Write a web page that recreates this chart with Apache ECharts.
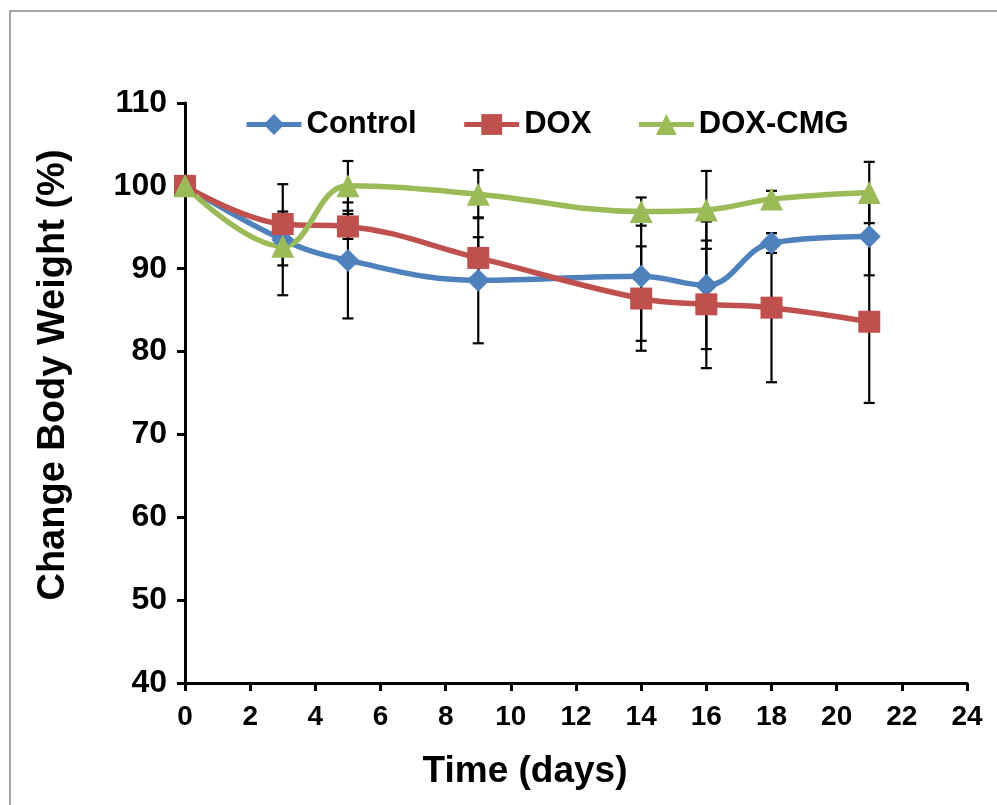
<!DOCTYPE html>
<html>
<head>
<meta charset="utf-8">
<script src="https://cdn.jsdelivr.net/npm/echarts@6/dist/echarts.min.js"></script>
<style>html,body{margin:0;padding:0;background:#fff;}#c{width:997px;height:805px;}</style>
</head>
<body>
<div id="c"></div>
<script>
var days = [0, 3, 5, 9, 14, 16, 18, 21];
var control = [100, 93.5, 91.0, 88.6, 89.1, 88.0, 93.1, 93.9];
var controlErr = [0, 6.7, 7.0, 7.6, 7.8, 7.7, 1.2, 4.7];
var dox = [100, 95.4, 95.1, 91.3, 86.4, 85.7, 85.3, 83.6];
var doxErr = [0, 1.5, 1.5, 2.5, 6.3, 7.7, 9.0, 9.8];
var doxcmg = [100, 92.7, 100.0, 99.0, 96.9, 97.1, 98.4, 99.2];
var doxcmgErr = [0, 2.3, 3.0, 2.9, 1.7, 4.7, 1.0, 3.7];
var xTicks = [0, 2, 4, 6, 8, 10, 12, 14, 16, 18, 20, 22, 24];
var yTicks = [40, 50, 60, 70, 80, 90, 100, 110];

var FONT = '"Liberation Sans", Arial, sans-serif';
function pairs(ys) { return days.map(function (d, i) { return [d, ys[i]]; }); }
function errData(ys, es) { return days.map(function (d, i) { return [d, ys[i] - es[i], ys[i] + es[i]]; }); }
function errSeries(ys, es) {
  return {
    type: 'custom', z: 1, silent: true,
    data: errData(ys, es),
    renderItem: function (params, api) {
      if (api.value(2) - api.value(1) <= 0) return null;
      var lo = api.coord([api.value(0), api.value(1)]);
      var hi = api.coord([api.value(0), api.value(2)]);
      var w = 5.5;
      var st = { stroke: '#000', lineWidth: 2.2 };
      return { type: 'group', children: [
        { type: 'line', shape: { x1: lo[0], y1: lo[1], x2: hi[0], y2: hi[1] }, style: st },
        { type: 'line', shape: { x1: lo[0] - w, y1: lo[1], x2: lo[0] + w, y2: lo[1] }, style: st },
        { type: 'line', shape: { x1: hi[0] - w, y1: hi[1], x2: hi[0] + w, y2: hi[1] }, style: st }
      ]};
    }
  };
}
function lineSeries(name, ys, color, symbol, size) {
  return {
    name: name, type: 'line', z: 3, smooth: 0.4, data: pairs(ys),
    symbol: symbol, symbolSize: size,
    lineStyle: { color: color, width: 5.5 },
    itemStyle: { color: color },
    emphasis: { disabled: true }
  };
}

var chart = echarts.init(document.getElementById('c'));
chart.setOption({
  animation: false,
  backgroundColor: '#fff',
  grid: { left: 185, right: 30, top: 103, bottom: 122, containLabel: false },
  legend: {
    top: 104, left: 239, itemWidth: 55, itemHeight: 26, itemGap: 45,
    data: ['Control', 'DOX', 'DOX-CMG'],
    lineStyle: { width: 5 },
    textStyle: { fontFamily: FONT, fontWeight: 'bold', fontSize: 31, color: '#000' }
  },
  xAxis: {
    type: 'value', min: 0, max: 24, interval: 2,
    splitLine: { show: false },
    axisLine: { lineStyle: { color: '#000', width: 3 } },
    axisTick: { show: true, inside: false, length: 8, lineStyle: { color: '#000', width: 3 } },
    axisLabel: { margin: 20, fontFamily: FONT, fontWeight: 'bold', fontSize: 28, color: '#000',
      formatter: function (v) { return xTicks.indexOf(v) >= 0 ? String(v) : ''; } }
  },
  yAxis: {
    type: 'value', min: 40, max: 110, interval: 10,
    splitLine: { show: false },
    axisLine: { show: true, lineStyle: { color: '#000', width: 3 } },
    axisTick: { show: true, inside: false, length: 8, lineStyle: { color: '#000', width: 3 } },
    axisLabel: { margin: 18, fontFamily: FONT, fontWeight: 'bold', fontSize: 32, color: '#000',
      formatter: function (v) { return yTicks.indexOf(v) >= 0 ? String(v) : ''; } }
  },
  graphic: [
    { type: 'rect', shape: { x: 10, y: 11, width: 1100, height: 900 }, style: { fill: 'none', stroke: '#888', lineWidth: 1.5 }, silent: true },
    { type: 'text', x: 525, y: 772, style: { text: 'Time (days)', fontFamily: FONT, fontWeight: 'bold', fontSize: 37, fill: '#000', align: 'center', verticalAlign: 'middle' } },
    { type: 'text', x: 54, y: 375, rotation: Math.PI / 2, style: { text: 'Change Body Weight (%)', fontFamily: FONT, fontWeight: 'bold', fontSize: 38, fill: '#000', align: 'center', verticalAlign: 'middle' } }
  ],
  series: [
    errSeries(control, controlErr),
    errSeries(dox, doxErr),
    errSeries(doxcmg, doxcmgErr),
    lineSeries('Control', control, '#4F81BD', 'diamond', 23),
    lineSeries('DOX', dox, '#C0504D', 'rect', 22),
    lineSeries('DOX-CMG', doxcmg, '#9BBB59', 'triangle', 23)
  ]
});
</script>
</body>
</html>
